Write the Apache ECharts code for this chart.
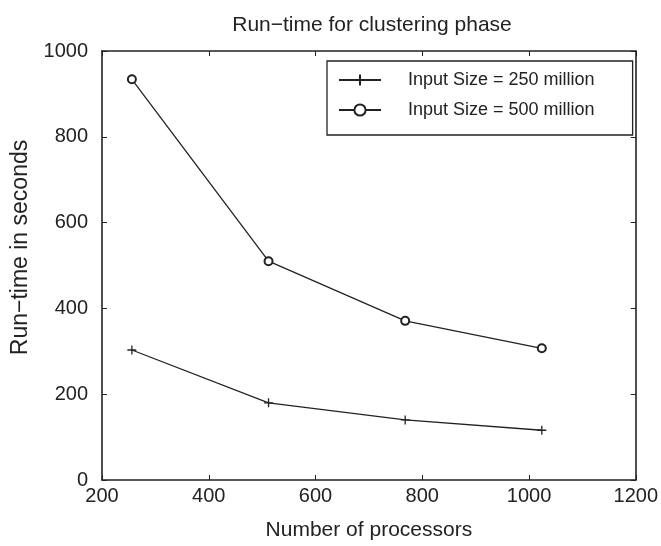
<!DOCTYPE html>
<html>
<head>
<meta charset="utf-8">
<script src="https://cdn.jsdelivr.net/npm/echarts@6/dist/echarts.min.js"></script>
<style>
  html, body { margin: 0; padding: 0; background: #fff; }
  #chart { width: 661px; height: 546px; }
</style>
</head>
<body>
<div id="chart"></div>
<script>
var processors = [256, 512, 768, 1024];
var size250 = [303, 180, 140, 116];
var size500 = [934, 510, 371, 307];
var seriesNames = ['Input Size = 250 million', 'Input Size = 500 million'];

var plusPath = 'path://M0,5L10,5M5,0L5,10';
var font = '"Liberation Sans", Arial, sans-serif';

function pairs(xs, ys) {
  return xs.map(function (x, i) { return [x, ys[i]]; });
}

var chart = echarts.init(document.getElementById('chart'));

// matlab style box: ticks on all four sides, pointing inward
var axisBase = {
  type: 'value',
  axisLine: { show: true, onZero: false, lineStyle: { color: '#222', width: 1.6 } },
  axisTick: { show: true, inside: true, length: 5, lineStyle: { color: '#222', width: 1 } },
  splitLine: { show: false },
  axisLabel: {
    color: '#222', fontSize: 20, fontFamily: font,
    formatter: function (v) { return String(v); }
  }
};

var option = {
  backgroundColor: '#fff',
  animation: false,
  title: {
    text: 'Run\u2212time for clustering phase',
    left: 367,
    textAlign: 'center',
    top: 10,
    textStyle: { color: '#222', fontSize: 21, fontWeight: 'normal', fontFamily: font }
  },
  grid: { left: 102, right: 25, top: 51, bottom: 64, containLabel: false },
  legend: {
    orient: 'vertical',
    left: 327,
    top: 61,
    itemWidth: 42,
    itemHeight: 14,
    itemGap: 12,
    padding: [10, 38, 16, 11],
    borderColor: '#222',
    borderWidth: 1.3,
    textStyle: { color: '#222', fontSize: 18, lineHeight: 18, fontFamily: font, padding: [0, 0, 0, 22] },
    data: seriesNames
  },
  xAxis: [
    Object.assign({}, axisBase, {
      min: 200, max: 1200, interval: 200,
      name: 'Number of processors',
      nameLocation: 'middle',
      nameGap: 40,
      nameTextStyle: { color: '#222', fontSize: 21, fontFamily: font },
      axisLabel: Object.assign({}, axisBase.axisLabel, { margin: 6 })
    }),
    Object.assign({}, axisBase, {
      position: 'top',
      min: 200, max: 1200, interval: 200,
      axisLabel: { show: false }
    })
  ],
  yAxis: [
    Object.assign({}, axisBase, {
      min: 0, max: 1000, interval: 200,
      name: 'Run\u2212time in seconds',
      nameLocation: 'middle',
      nameGap: 70,
      nameTextStyle: { color: '#222', fontSize: 23, fontFamily: font, padding: [0, 0, 0, 36] },
      axisLabel: Object.assign({}, axisBase.axisLabel, { margin: 14 })
    }),
    Object.assign({}, axisBase, {
      position: 'right',
      min: 0, max: 1000, interval: 200,
      axisLabel: { show: false }
    })
  ],
  series: [
    {
      name: seriesNames[0],
      type: 'line',
      data: pairs(processors, size250),
      symbol: plusPath,
      symbolSize: 9,
      showSymbol: true,
      lineStyle: { color: '#222', width: 1.3 },
      itemStyle: { color: '#222', borderColor: '#222', borderWidth: 1.3 }
    },
    {
      name: seriesNames[1],
      type: 'line',
      data: pairs(processors, size500),
      symbol: 'emptyCircle',
      symbolSize: 8,
      showSymbol: true,
      lineStyle: { color: '#222', width: 1.3 },
      itemStyle: { color: '#222', borderColor: '#222', borderWidth: 1.2 }
    }
  ]
};

chart.setOption(option);
</script>
</body>
</html>
